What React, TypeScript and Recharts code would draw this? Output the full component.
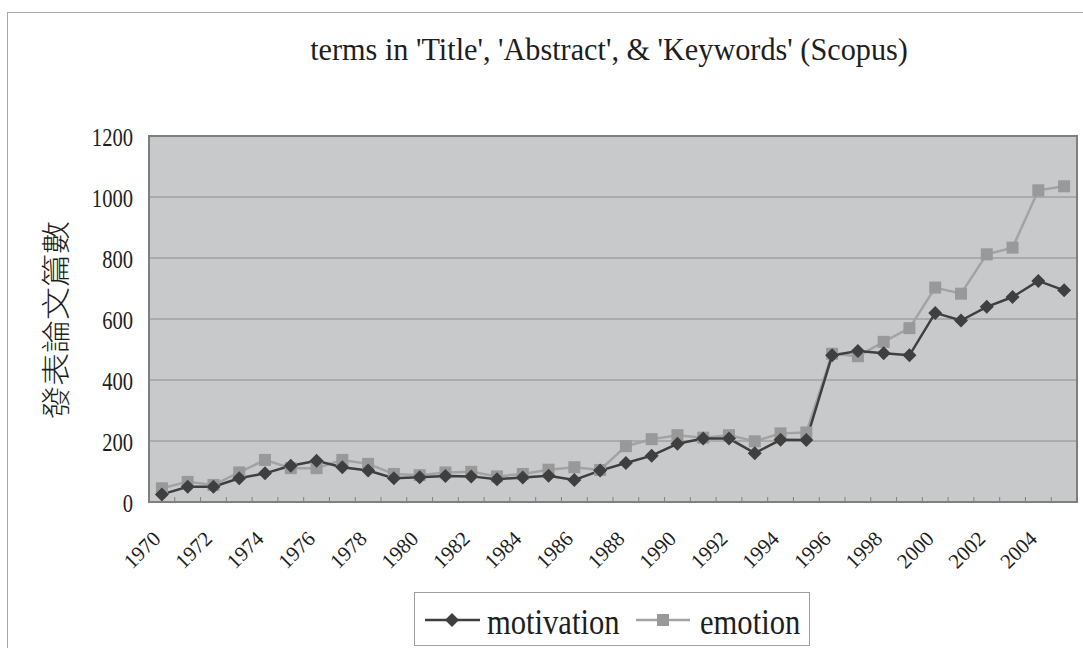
import { LineChart, Line, XAxis, YAxis, CartesianGrid, Legend, ReferenceArea } from "recharts";

const years = [
  "1970", "1971", "1972", "1973", "1974", "1975", "1976", "1977", "1978", "1979",
  "1980", "1981", "1982", "1983", "1984", "1985", "1986", "1987", "1988", "1989",
  "1990", "1991", "1992", "1993", "1994", "1995", "1996", "1997", "1998", "1999",
  "2000", "2001", "2002", "2003", "2004", "2005",
];
const motivation = [
  25, 50, 50, 78, 94, 119, 135, 114, 103, 78,
  81, 85, 84, 75, 80, 86, 72, 103, 128, 152,
  191, 208, 208, 160, 204, 203, 481, 495, 488, 481,
  620, 595, 640, 672, 725, 694,
];
const emotion = [
  45, 66, 56, 97, 138, 111, 111, 138, 125, 92,
  88, 97, 99, 84, 92, 106, 114, 105, 183, 206,
  219, 211, 219, 199, 225, 228, 486, 478, 525, 570,
  703, 683, 812, 834, 1022, 1035,
];
const yTicks = [0, 200, 400, 600, 800, 1000, 1200];
const title = "terms in 'Title', 'Abstract', & 'Keywords' (Scopus)";
const yLabel = "發表論文篇數";

const data = years.map((year, i) => ({ year, motivation: motivation[i], emotion: emotion[i] }));

const SERIF = "'Liberation Serif', 'Times New Roman', serif";
const CJK = "'Noto Sans CJK TC', 'Noto Sans CJK SC', sans-serif";
const DARK = "#3f3f3f";
const LIGHT = "#a3a3a3";
const SQUARE = "#999999";
const TEXT = "#1e1e1e";
const BAND = 928 / years.length; // plot width / categories

function Diamond({ cx, cy }: any) {
  if (cx == null || cy == null) return null;
  const r = 7;
  return <polygon points={`${cx},${cy - r} ${cx + r},${cy} ${cx},${cy + r} ${cx - r},${cy}`} fill={DARK} />;
}

function Square({ cx, cy }: any) {
  if (cx == null || cy == null) return null;
  return <rect x={cx - 6} y={cy - 6} width={12} height={12} fill={SQUARE} />;
}

function YearTick({ x, y, payload, index }: any) {
  const i = payload?.index ?? index;
  const ty = y + 38;
  return (
    <g>
      {i > 0 && <line x1={x - BAND / 2} x2={x - BAND / 2} y1={y} y2={y - 5} stroke="#7f7f7f" />}
      {i % 2 === 0 && (
        <text
          x={x}
          y={ty}
          transform={`rotate(-45 ${x} ${ty})`}
          textAnchor="end"
          fontFamily={SERIF}
          fontSize={21}
          fill={TEXT}
        >
          {payload.value}
        </text>
      )}
    </g>
  );
}

// the original's text is narrow and tall, so squeeze it sideways
function CountTick({ x, y, payload }: any) {
  return (
    <text
      transform={`translate(${x},${y + 2}) scale(0.84,1)`}
      textAnchor="end"
      dominantBaseline="central"
      fontFamily={SERIF}
      fontSize={24.5}
      fill={TEXT}
    >
      {payload.value}
    </text>
  );
}

function LegendBox() {
  return (
    <svg width={396} height={54} style={{ display: "block" }}>
      <rect x={0.5} y={0.5} width={395} height={53} fill="#fff" stroke="#a0a0a0" />
      <line x1={11} x2={66} y1={28} y2={28} stroke={DARK} strokeWidth={2.5} />
      <polygon points="38,21 45,28 38,35 31,28" fill={DARK} />
      <text transform="translate(73,42) scale(0.85,1)" fontFamily={SERIF} fontSize={36} fill={TEXT}>
        motivation
      </text>
      <line x1={222} x2={276} y1={28} y2={28} stroke={LIGHT} strokeWidth={2.5} />
      <rect x={243} y={22} width={12} height={12} fill={SQUARE} />
      <text transform="translate(286,42) scale(0.85,1)" fontFamily={SERIF} fontSize={36} fill={TEXT}>
        emotion
      </text>
    </svg>
  );
}

export default function App() {
  return (
    <div style={{ position: "absolute", left: 0, top: 0, width: 1083, height: 648, overflow: "hidden", background: "#fff" }}>
      <div
        style={{
          position: "absolute",
          left: 7,
          top: 12,
          width: 1200,
          height: 800,
          border: "1.5px solid #a8a8a8",
        }}
      />
      <div
        style={{
          position: "absolute",
          left: 0,
          top: 33,
          width: 1218,
          textAlign: "center",
          fontFamily: SERIF,
          fontSize: 32,
          lineHeight: "32px",
          color: TEXT,
          whiteSpace: "nowrap",
          transform: "scaleX(0.945)",
          transformOrigin: "609px 0",
        }}
      >
        {title}
      </div>
      <LineChart
        width={1083}
        height={648}
        data={data}
        margin={{ top: 136, right: 6, left: 49, bottom: 2 }}
        style={{ position: "absolute", left: 0, top: 0 }}
      >
        <CartesianGrid vertical={false} stroke="#8c8c8c" fill="#c8c9cb" />
        <ReferenceArea y1={0} y2={1200} fill="none" stroke="#7f7f7f" strokeWidth={2} />
        <XAxis
          dataKey="year"
          scale="band"
          interval={0}
          tickLine={false}
          axisLine={false}
          tickSize={0}
          tickMargin={0}
          height={90}
          tick={<YearTick />}
        />
        <YAxis
          domain={[0, 1200]}
          ticks={yTicks}
          width={100}
          tickLine={false}
          axisLine={false}
          tickSize={8}
          tickMargin={8}
          tick={<CountTick />}
          label={{
            content: () => (
              <text
                transform="translate(54.5,320) scale(0.88,1) rotate(-90)"
                textAnchor="middle"
                dominantBaseline="central"
                fontFamily={CJK}
                fontSize={33}
                fontWeight={300}
                fill={TEXT}
              >
                {yLabel}
              </text>
            ),
          }}
        />
        <Legend
          verticalAlign="bottom"
          height={54}
          wrapperStyle={{ left: 414, width: 396, bottom: 2 }}
          content={() => <LegendBox />}
        />
        <Line
          dataKey="emotion"
          stroke={LIGHT}
          strokeWidth={2.5}
          dot={<Square />}
          activeDot={false}
          isAnimationActive={false}
        />
        <Line
          dataKey="motivation"
          stroke={DARK}
          strokeWidth={2.5}
          dot={<Diamond />}
          activeDot={false}
          isAnimationActive={false}
        />
      </LineChart>
    </div>
  );
}
